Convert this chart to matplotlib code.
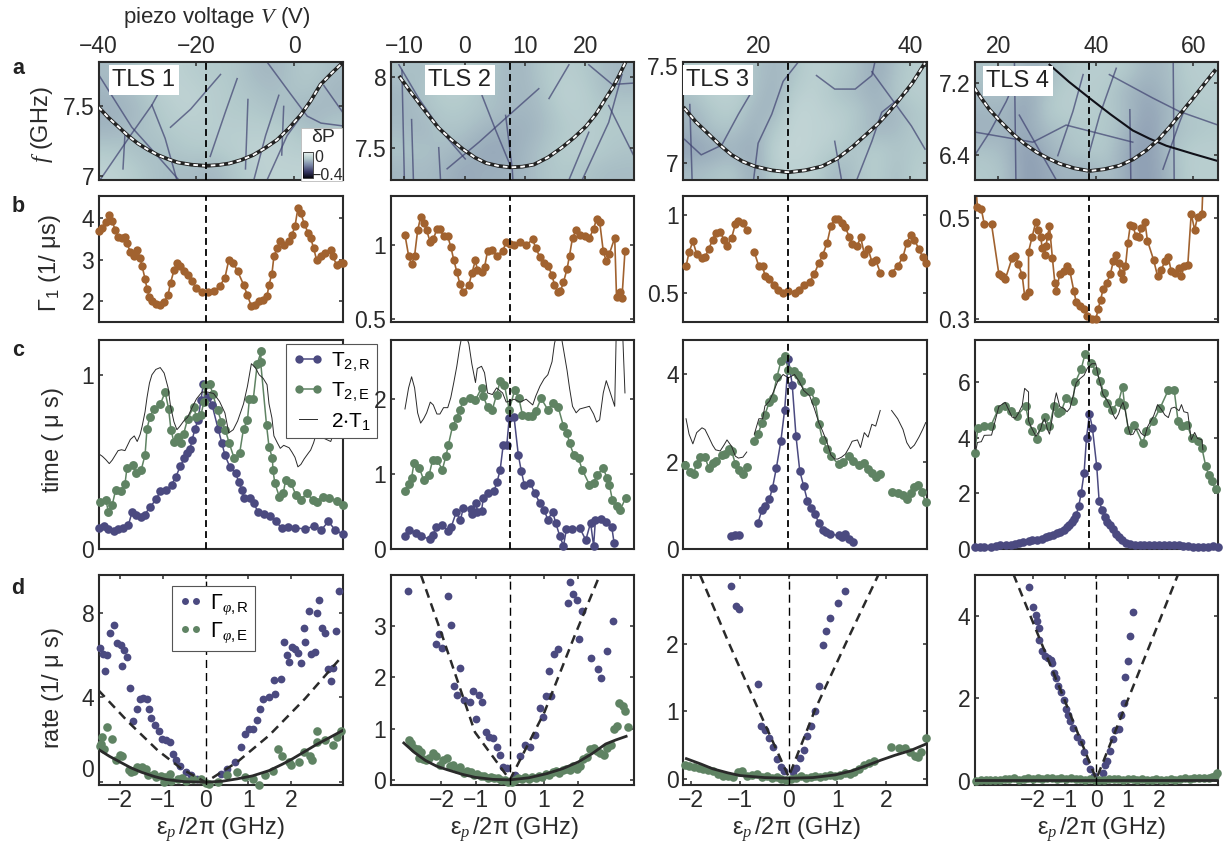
import numpy as np
import matplotlib
matplotlib.use('Agg')
import matplotlib.pyplot as plt
from matplotlib.colors import LinearSegmentedColormap, Normalize
from matplotlib.cm import ScalarMappable
from matplotlib.patches import Rectangle
from matplotlib.lines import Line2D

plt.rcParams['font.family'] = ['Liberation Sans Narrow', 'Liberation Sans', 'DejaVu Sans']
plt.rcParams['mathtext.fontset'] = 'custom'
plt.rcParams['mathtext.rm'] = 'Liberation Sans'
plt.rcParams['mathtext.it'] = 'Liberation Serif:italic'
plt.rcParams['mathtext.bf'] = 'Liberation Sans:bold'
plt.rcParams['mathtext.fallback'] = 'stix'

W, H = 1230, 846
nan = np.nan

# ---------- axis ranges ----------
V_LIMS = [(-40, 9.8), (-12.3, 28.1), (10.1, 42.2), (15.1, 65.1)]
V_TICKS = [[-40, -20, 0], [-10, 0, 10, 20], [20, 40], [20, 40, 60]]
V_SWEET = [-18.0, 7.5, 24.0, 38.7]
F_LIMS = [(6.97, 7.82), (7.27, 8.11), (6.91, 7.52), (6.12, 7.43)]
F_TICKS = [[7, 7.5], [7.5, 8], [7, 7.5], [6.4, 7.2]]
F_LABELS = [['7', '7.5'], ['7.5', '8'], ['7', '7.5'], ['6.4', '7.2']]
G_LIMS = [(1.5, 4.52), (0.48, 1.33), (0.313, 1.117), (0.295, 0.543)]
G_TICKS = [[2, 3, 4], [0.5, 1], [0.5, 1], [0.3, 0.5]]
G_LABELS = [['2', '3', '4'], ['0.5', '1'], ['0.5', '1'], ['0.3', '0.5']]
T_LIMS = [(0, 1.2), (0, 2.79), (0, 4.79), (0, 7.52)]
T_TICKS = [[0, 1], [0, 1, 2], [0, 2, 4], [0, 2, 4, 6]]
E_LIMS = [(-2.51, 3.21), (-3.49, 3.63), (-2.17, 2.83), (-3.85, 3.85)]
E_TICKS = [[-2, -1, 0, 1, 2], [-2, -1, 0, 1, 2], [-2, -1, 0, 1, 2], [-2, -1, 0, 1, 2]]
R_LIMS = [(-0.13, 9.78), (-0.1, 4.0), (-0.09, 3.02), (-0.1, 4.98)]
R_TICKS = [[0, 4, 8], [0, 1, 2, 3], [0, 1, 2], [0, 2, 4]]

# ---------- row a: background (dP, coarse readings) ----------
BG_1 = [[-.12, -.11, -.09, -.08, -.09, -.10, -.10, -.12, -.13, -.11, -.10, -.12],
        [-.13, -.12, -.10, -.08, -.08, -.09, -.10, -.11, -.12, -.11, -.11, -.13],
        [-.14, -.13, -.11, -.09, -.08, -.09, -.10, -.10, -.11, -.12, -.13, -.12],
        [-.13, -.12, -.11, -.10, -.09, -.09, -.09, -.09, -.09, -.10, -.12, -.10],
        [-.10, -.11, -.12, -.11, -.10, -.10, -.09, -.08, -.08, -.09, -.09, -.08],
        [-.08, -.09, -.11, -.12, -.12, -.13, -.11, -.09, -.08, -.08, -.08, -.08]]
BG_2 = [[-.11, -.12, -.10, -.09, -.10, -.12, -.13, -.10, -.09, -.10, -.12, -.13],
        [-.13, -.11, -.09, -.09, -.11, -.12, -.13, -.11, -.08, -.09, -.12, -.12],
        [-.13, -.12, -.10, -.10, -.11, -.12, -.13, -.12, -.09, -.09, -.10, -.10],
        [-.12, -.13, -.11, -.11, -.13, -.14, -.14, -.12, -.10, -.09, -.10, -.10],
        [-.11, -.11, -.12, -.13, -.15, -.15, -.13, -.11, -.09, -.09, -.10, -.11],
        [-.13, -.12, -.13, -.15, -.14, -.14, -.13, -.11, -.10, -.11, -.12, -.12]]
BG_3 = [[-.10, -.09, -.09, -.11, -.13, -.11, -.08, -.10, -.11, -.15, -.11, -.09],
        [-.11, -.08, -.08, -.11, -.14, -.09, -.08, -.11, -.12, -.14, -.10, -.09],
        [-.13, -.10, -.09, -.13, -.13, -.07, -.08, -.09, -.10, -.13, -.13, -.10],
        [-.14, -.11, -.11, -.14, -.10, -.07, -.08, -.08, -.11, -.13, -.12, -.10],
        [-.16, -.15, -.13, -.15, -.08, -.07, -.08, -.10, -.11, -.09, -.11, -.10],
        [-.12, -.11, -.10, -.15, -.09, -.08, -.09, -.13, -.11, -.09, -.12, -.09]]
BG_4 = [[-.11, -.10, -.13, -.13, -.10, -.09, -.09, -.10, -.13, -.12, -.09, -.09],
        [-.12, -.11, -.15, -.11, -.09, -.09, -.10, -.13, -.15, -.12, -.10, -.09],
        [-.13, -.13, -.16, -.10, -.09, -.09, -.10, -.12, -.16, -.13, -.10, -.10],
        [-.14, -.13, -.15, -.12, -.11, -.10, -.10, -.13, -.17, -.12, -.11, -.10],
        [-.11, -.12, -.17, -.14, -.11, -.10, -.10, -.15, -.17, -.12, -.09, -.09],
        [-.10, -.11, -.17, -.15, -.13, -.14, -.11, -.15, -.17, -.13, -.09, -.09]]

# ---------- row a: faint defect traces as (V, f) readings ----------
TRACES_1 = [[(-40, 7.73), (-33.2, 7.35), (-28, 7.145), (-23.6, 6.97)],
            [(-39.7, 6.97), (-33.5, 7.29), (-29.1, 7.51), (-27.7, 7.6)],
            [(-29.1, 7.51), (-26.4, 7.27), (-24, 6.97)],
            [(-5.6, 7.82), (-0.8, 7.59), (2.6, 7.43), (5.4, 7.38), (9.8, 7.36)],
            [(-17.2, 7.14), (-14.1, 7.46), (-11.7, 7.70)],
            [(-8.3, 6.97), (-5.9, 7.29), (-3.2, 7.58)],
            [(-25.3, 7.35), (-21.2, 7.48), (-15.1, 7.73)],
            [(-5.6, 6.97), (-1.5, 7.29), (2, 7.46)],
            [(6, 7.65), (9.8, 7.46)],
            [(-35, 7.05), (-34.6, 7.3)],
            [(-10, 7.05), (-9.5, 7.55)],
            [(-2.6, 7.15), (-2.2, 7.5)]]
TRACES_2 = [[(-10.9, 8.09), (-7.6, 7.85), (-3.7, 7.61), (0.1, 7.42)],
            [(6.8, 7.73), (7.9, 7.35), (8.0, 7.27)],
            [(2.9, 7.87), (5.1, 7.63), (7.6, 7.37)],
            [(-2.9, 7.35), (2.4, 7.54), (6.8, 7.71), (12.3, 7.92)],
            [(20.6, 8.09), (24.5, 7.95), (28.1, 7.96)],
            [(19.5, 7.27), (23.9, 7.68), (26.1, 8.02)],
            [(17.3, 7.27), (20.6, 7.61)],
            [(23.9, 7.80), (28.1, 7.44)],
            [(14, 7.85), (17.3, 8.09)],
            [(-10.4, 8.05), (-10.0, 7.27)],
            [(-8.8, 7.7), (-8.5, 7.27)],
            [(-4.3, 7.5), (-4.0, 7.27)]]
TRACES_3 = [[(25.3, 7.52), (23.3, 7.42), (21.8, 7.25), (20, 7.10), (19.4, 6.91)],
            [(27.7, 7.45), (30.1, 7.38), (32.8, 7.38), (35, 7.45), (35.4, 7.52)],
            [(35, 7.47), (37.6, 7.33), (40.2, 7.19), (42, 7.07)],
            [(10.3, 7.12), (12.5, 7.04), (15.2, 7.09), (17.4, 7.25), (18.9, 7.35)],
            [(39.8, 7.37), (36.3, 7.26), (35, 7.11), (33, 6.91)],
            [(30.1, 7.11), (31, 6.91)],
            [(11.0, 7.3), (11.3, 6.91)]]
TRACES_4 = [[(15.1, 6.39), (18.2, 6.65), (21.6, 6.99), (24, 7.29)],
            [(42.8, 7.29), (51.7, 7.03), (57.2, 6.88), (65.1, 6.73)],
            [(32.2, 6.39), (35.3, 6.88), (37.4, 7.29)],
            [(38.7, 6.43), (40.8, 6.84), (44.2, 7.36)],
            [(15.4, 6.65), (27.1, 6.54), (33.9, 6.73), (47.6, 6.54)],
            [(53.8, 6.24), (57.2, 6.76), (58.6, 6.95)],
            [(24.3, 6.84), (31.9, 6.12)],
            [(23.3, 7.43), (23.6, 6.12)],
            [(47, 6.9), (47.2, 6.12)],
            [(55.9, 7.43), (56.1, 6.12)]]
STRONG_4 = [(30.5, 7.40), (34.5, 7.21), (38.7, 7.03), (43, 6.85), (47.6, 6.67), (51, 6.58), (54.5, 6.50), (60, 6.41), (65.1, 6.33)]

# ---------- row a: TLS resonance curve readings ----------
CURVE_1 = [(-40, 7.495), (-38, 7.42), (-36, 7.355), (-34, 7.29), (-32, 7.234), (-30, 7.19), (-27.9, 7.15), (-25.8, 7.12), (-23.8, 7.096), (-21, 7.08), (-18.1, 7.072),
           (-15.5, 7.078), (-13.3, 7.089), (-10.8, 7.115), (-8.4, 7.15), (-6, 7.2), (-3.6, 7.258), (-1.2, 7.34), (1.3, 7.44), (3.3, 7.54), (5.3, 7.657), (7.6, 7.74), (9.8, 7.814)]
CURVE_2 = [(-10.7, 8.0), (-9.2, 7.91), (-7.6, 7.82), (-6, 7.73), (-4.3, 7.64), (-2.3, 7.56), (-0.3, 7.49), (1.7, 7.43), (3.6, 7.39), (5.6, 7.37), (7.6, 7.36), (9.6, 7.365),
           (11.5, 7.38), (13.8, 7.43), (16.1, 7.5), (18.1, 7.57), (20.1, 7.65), (21.8, 7.74), (23.4, 7.85), (24.6, 7.93), (25.7, 8.02), (26.7, 8.11)]
CURVE_3 = [(10.3, 7.28), (11.8, 7.21), (13.4, 7.15), (15, 7.09), (16.5, 7.04), (18, 7.005), (19.6, 6.98), (21.8, 6.96), (24, 6.95), (26.2, 6.96), (28.4, 6.98), (30.4, 7.02),
           (32.4, 7.08), (34.1, 7.14), (35.8, 7.2), (37.2, 7.26), (38.5, 7.32), (40.3, 7.41), (42, 7.515)]
CURVE_4 = [(15.1, 7.14), (16.6, 7.02), (18.2, 6.9), (20.6, 6.76), (23, 6.63), (25.4, 6.52), (27.8, 6.43), (30.2, 6.36), (32.6, 6.30), (35.6, 6.25), (38.7, 6.22), (41.8, 6.24),
           (44.9, 6.28), (47.7, 6.35), (50.4, 6.45), (52.9, 6.57), (55.2, 6.71), (57.6, 6.87), (60, 7.03), (62.2, 7.18), (64.4, 7.33)]

# ---------- row b: Gamma_1 (V, 1/us) ----------
GAMMA_1 = [(-39.8, 3.68), (-39.2, 3.76), (-38.5, 3.9), (-37.8, 4.08), (-37.2, 3.92), (-36.6, 3.72), (-36, 3.54), (-35.3, 3.51),
           (-34.6, 3.54), (-34.2, 3.4), (-33.5, 3.18), (-32.7, 3.08), (-32.1, 3.24), (-31.5, 3.04), (-31.1, 2.84), (-30.5, 2.54),
           (-30.1, 2.3), (-29.6, 2.1), (-29.1, 2.0), (-28.3, 1.94), (-27.4, 1.92), (-26.6, 1.98), (-25.8, 2.16), (-25.3, 2.44),
           (-24.6, 2.74), (-24, 2.92), (-23.4, 2.84), (-22.6, 2.72), (-21.8, 2.64), (-21, 2.48), (-20, 2.32), (-18.9, 2.22),
           (-17.7, 2.22), (-16.5, 2.24), (-15.3, 2.36), (-14.2, 2.56), (-13.4, 3.0), (-12.5, 2.92), (-11.6, 2.72), (-10.4, 2.4),
           (-9.6, 2.14), (-8.8, 1.88), (-8, 1.92), (-7.2, 2.0), (-6.4, 2.04), (-5.6, 2.12), (-5.2, 2.4), (-4.6, 2.66), (-4.2, 3.08),
           (-3.5, 3.28), (-2.9, 3.46), (-2.2, 3.36), (-1.1, 3.44), (-0.5, 3.6), (0.1, 3.8), (0.7, 4.24), (1.3, 4.12), (2, 3.86),
           (2.8, 3.64), (3.3, 3.52), (3.9, 3.28), (4.5, 3.0), (5.4, 3.08), (6.2, 3.16), (7.4, 3.24), (7.8, 3.08), (8.6, 2.88),
           (9.4, 2.92), (9.8, 2.92)]
GAMMA_2 = [(-9.9, 1.07), (-9.3, .93), (-8.8, .87), (-8.3, .93), (-7.8, 1.10), (-7.3, 1.19), (-6.8, 1.15), (-6.3, 1.10), (-5.7, 1.02),
           (-5.2, 1.04), (-4.6, 1.11), (-4.1, 1.11), (-3.5, 1.06), (-2.8, 1.06), (-2.3, .99), (-1.8, .90), (-1.3, .82), (-0.8, .74),
           (-0.2, .68), (0.7, .73), (1.2, .81), (1.8, .90), (2.1, .83), (2.8, .82), (3.3, .85), (3.8, .96), (4.6, .97), (5.3, .93),
           (6.3, .96), (6.9, 1.02), (7.6, 1.01), (8.2, 1.0), (9.2, 1.02), (10.2, 1.0), (11.3, 1.04), (11.8, .98), (12.5, .92),
           (13.2, .88), (13.8, .86), (14.5, .80), (14.9, .73), (15.5, .68), (15.9, .69), (16.4, .75), (17, .84), (17.4, .93),
           (17.9, 1.05), (18.5, 1.10), (19.1, 1.07), (19.9, 1.06), (20.7, 1.05), (21.4, 1.11), (21.9, 1.18), (22.4, 1.16), (23, .96),
           (23.5, .89), (24, .94), (24.9, 1.05), (25.2, .65), (25.7, .68), (26.1, .64), (26.6, .96)]
GAMMA_3 = [(10.5, .67), (10.9, .76), (11.4, .83), (11.9, .75), (12.6, .72), (13, .73), (13.5, .78), (14, .84), (14.4, .88), (15, .89),
           (15.5, .84), (15.9, .80), (16.5, .85), (17, .94), (17.4, .96), (18, .95), (18.5, .90), (19, nan), (19.5, .76), (20.1, .67),
           (20.6, .67), (20.9, .61), (21.5, .59), (22.1, .55), (22.6, .52), (23.3, .50), (24, .51), (24.8, .50), (25.4, .52), (26, .55),
           (26.8, .57), (27.4, .62), (28, .69), (28.5, .74), (29.1, .82), (29.6, .93), (30.1, .97), (30.5, .97), (31, .95), (31.5, .92),
           (32, .86), (32.4, .81), (33.1, .80), (33.5, .86), (34, .75), (34.5, .78), (35, .70), (35.5, .71), (36.1, .63), (37, nan),
           (37.6, .63), (38.4, .67), (39.1, .73), (39.6, .82), (40.1, .87), (40.6, .84), (41.2, .78), (41.7, .73), (42.1, .69)]
GAMMA_4 = [(15.4, .56), (15.7, .522), (16.5, .518), (17.1, .489), (18.6, .488), (20.1, .39), (20.7, .385), (21.4, .379), (22.8, .421),
           (23.5, .425), (24.1, .41), (24.9, .387), (25.4, .346), (26.2, .354), (26.2, .434), (26.9, .462), (27.7, .493), (28.2, .477),
           (28.7, .463), (29, .441), (29.5, .427), (29.8, .446), (30.1, .465), (30.5, .484), (31.1, .421), (31.6, .372), (31.9, .356),
           (32.6, .39), (33.4, .395), (34.1, .405), (34.7, .395), (35.5, .356), (36, .334), (36.8, .326), (37.6, .32), (38.3, .307),
           (39.2, .30), (40, .30), (40.5, .321), (41, .339), (41.5, .36), (42.3, .373), (43, .39), (43.6, .415), (44.1, .428), (44.7, .411),
           (45.1, .392), (45.6, .379), (46.1, .405), (46.6, .452), (47.1, .487), (47.7, .484), (48.2, .465), (48.8, .463), (49.3, .48),
           (50.1, .493), (50.6, .456), (51.9, .417), (52.7, .385), (53.4, .397), (54.2, .415), (54.9, .423), (55.5, .395), (56.2, .392),
           (57.1, .402), (57.6, .385), (58.1, .405), (58.9, .408), (59.6, .509), (60.3, .477), (60.9, .503), (61.8, .509), (62, .56)]

# ---------- row c: T2 (V, us) ----------
T2R_1 = [(-39.8, .12), (-38.8, .13), (-38, .116), (-36.8, .105), (-36, .116), (-35, .12), (-33.9, .139), (-33.1, .215), (-32.3, .196),
         (-31.3, .181), (-30.6, .196), (-29.4, .244), (-28.2, .286), (-27.4, .333), (-26.2, .339), (-25.1, .368), (-24.2, .415), (-23.3, .476),
         (-22.5, .52), (-21.9, .549), (-21.3, .577), (-20.9, .625), (-20.3, .691), (-19.7, .739), (-19.1, .853), (-18.6, .949), (-17.6, .872),
         (-16.8, .825), (-15.6, .691), (-14.8, .606), (-14.2, .539), (-13.2, .472), (-12, .434), (-11.4, .387), (-10.7, .339), (-10.3, .291),
         (-9.1, .291), (-8.3, .263), (-7.5, .215), (-6.3, .202), (-5, .187), (-3.8, .158), (-2.6, .12), (-1.4, .126), (0.2, .12), (2.2, .116),
         (3.9, .13), (5.5, .11), (6.9, .158), (8.3, .11), (9.8, .086)]
T2E_1 = [(-39.6, .272), (-38.5, .282), (-38, .215), (-37.2, .253), (-36.5, .339), (-35.5, .333), (-34.6, .373), (-34.2, .463), (-32.9, .482),
         (-32.3, .434), (-31.3, .453), (-30.5, .539), (-30.1, .691), (-29.5, .758), (-28.7, .806), (-27.4, .83), (-26.4, .901), (-25.7, .806),
         (-25.2, .682), (-24.6, .615), (-23.8, .644), (-23.2, .606), (-22.6, .663), (-21.8, .749), (-20.6, .815), (-20, .758), (-19.1, .768),
         (-18.5, .844), (-18.3, .939), (-17.3, .949), (-16.7, .891), (-15.7, .796), (-14.9, .73), (-14.1, .682), (-13.3, .606), (-12.3, .52),
         (-11.2, .549), (-10.4, .691), (-9.6, .739), (-9.2, .863), (-8.4, .863), (-7.6, 1.063), (-6.8, 1.135), (-6.9, 1.072), (-5.7, .71),
         (-5.2, .587), (-4.5, .52), (-4.4, .453), (-4, .377), (-3.1, .301), (-2.3, .32), (-1.8, .396), (-0.7, .377), (0.3, .31), (1.3, .282),
         (2.5, .32), (3.7, .282), (4.5, .272), (5.8, .301), (7.1, .291), (8.6, .278), (9.8, .253)]
T2R_2 = [(-9.9, .17), (-9.3, .26), (-8, .21), (-7.2, .17), (-5.7, .13), (-5.2, .19), (-4.7, .30), (-3.7, .32), (-2.8, .24), (-2.2, .30),
         (-1.4, .49), (-0.7, .39), (-0.2, .55), (1, .54), (1.2, .47), (1.9, .62), (2.1, .50), (2.8, .51), (3.1, .68), (3.9, .75), (4.9, .78),
         (5.4, .90), (5.9, 1.06), (6.4, 1.39), (7, 1.39), (7.4, 1.75), (8.2, 1.76), (8.9, 1.26), (9.4, 1.04), (9.9, .86), (10.9, .88), (11.6, .75),
         (12.5, .61), (13.2, .52), (13.8, .39), (14.6, .50), (15.1, .35), (15.8, .17), (16.4, .04), (16.9, .27), (17.8, .27), (19.1, .28),
         (20.1, .12), (20.9, .35), (21.4, .04), (21.7, .39), (22.6, .40), (23.4, .36), (24.4, .30), (24.8, .08)]
T2E_2 = [(-9.9, .77), (-9.3, .87), (-8.8, .95), (-8.4, 1.15), (-7.5, 1.08), (-6.8, .92), (-5.9, .99), (-5.3, 1.19), (-4.6, 1.19), (-3.7, 1.06),
         (-3.1, 1.24), (-2.7, 1.39), (-2, 1.64), (-1.3, 1.75), (-0.8, 1.86), (-0.2, 1.98), (0.9, 2.01), (1.8, 1.99), (2.8, 2.15), (3.1, 2.04),
         (3.8, 1.89), (4.6, 1.86), (5.3, 2.06), (5.9, 2.24), (6.6, 2.19), (7.4, 1.86), (8.3, 2.12), (9, 2.01), (9.6, 1.79), (10.5, 1.78), (11.2, 1.78),
         (11.8, 1.84), (12.7, 2.01), (13.8, 1.86), (14.7, 1.95), (15.5, 1.9), (16.4, 1.64), (17, 1.55), (17.4, 1.41), (18.1, 1.26), (18.9, 1.21),
         (19.5, 1.06), (20.7, .86), (21.4, .88), (22, .99), (23, 1.08), (23.6, .95), (24, .86), (24.5, .66), (25.3, .57), (25.8, .52), (26.7, .68)]
T2R_3 = [(16.4, .29), (17, .33), (17.5, .33), (18.5, nan), (20, .6), (20.5, .9), (20.9, .99), (21.5, 1.15), (21.9, 1.4), (22.4, 1.85), (23, 2.47),
         (23.5, 3.19), (24, 4.35), (24.5, 3.76), (25, 2.58), (25.5, 1.78), (26, 1.45), (26.5, 1.11), (27, .95), (27.5, .8), (28, .6), (28.5, .44),
         (29, .38), (29.5, .34), (30.6, .31), (31.1, .27), (31.5, .35), (32, .23), (32.5, .15)]
T2E_3 = [(10.4, 1.92), (11, 1.76), (11.5, 1.73), (11.9, 1.95), (12.4, 2.11), (13, 2.11), (13.5, 1.85), (14, 1.97), (14.5, 2.01), (15.2, 2.16),
         (15.6, 2.18), (16.1, 2.29), (16.5, 2.25), (17, 1.95), (17.5, 1.82), (18, 1.73), (18.5, 1.88), (19, nan), (19.5, 2.47), (20, 2.64), (20.5, 2.89),
         (20.9, 3.08), (21.5, 3.38), (21.9, 3.46), (22.5, 3.95), (23, 4.3), (23.5, 4.43), (24, 4.11), (24.7, 4.07), (25.2, 3.99), (25.6, 3.84),
         (26.1, 3.6), (26.9, 3.63), (27.5, 3.4), (28, 2.87), (28.5, 2.5), (29.1, 2.29), (29.6, 2.12), (30.6, 1.95), (31.2, 1.99), (32, 2.14), (32.5, 2.01),
         (33.3, 1.93), (34, 1.97), (34.5, 1.83), (35, 1.74), (35.6, 1.65), (36.1, 1.72), (37, nan), (37.6, 1.3), (38.4, 1.28), (39.1, 1.23), (39.6, 1.15),
         (40.1, 1.28), (40.6, 1.41), (41.1, 1.46), (41.6, 1.3), (42.1, 1.07)]
T2R_4 = [(15.2, .06), (16.2, .06), (17, .06), (18.5, .08), (19.5, .09), (20.3, .13), (21.5, .13), (22.5, .15), (23.5, .17), (24.3, .23), (25, .25),
         (26.2, .3), (27, .33), (28, .34), (29, .37), (29.8, .42), (30.5, .45), (31.3, .5), (32, .57), (32.7, .62), (33.4, .7), (34, .78), (34.6, .86),
         (35.2, .97), (35.6, 1.08), (36, 1.24), (36.5, 1.55), (37, 2), (37.6, 2.74), (38.1, 4), (38.7, 4.86), (39.3, 4.37), (40.2, 2.97), (40.7, 1.71),
         (41.3, 1.41), (41.8, 1.15), (42.4, .98), (43, .85), (43.6, .72), (44.2, .55), (44.8, .42), (45.4, .32), (46.2, .22), (47, .17), (48, .15), (49, .14),
         (50, .15), (51, .16), (52, .16), (53, .15), (54, .14), (55, .13), (56, .14), (57, .15), (58, .11), (59, .09), (60, .08), (61, .08), (62, .07),
         (63, .08), (64, .09), (65, .08)]
T2E_4 = [(15.1, 3.47), (15.8, 4.35), (17.1, 4.44), (18.4, 4.41), (20, 5.04), (21.4, 5.15), (22.5, 4.95), (23.8, 4.79), (25.6, 5.15), (26.2, 4.62),
         (26.9, 4.23), (27.9, 3.95), (28.7, 4.38), (29.5, 4.74), (30.5, 4.41), (31.4, 5.13), (32.3, 4.89), (32.9, 4.95), (33.9, 5.43), (35.3, 5.34),
         (35.8, 6), (37, 6.47), (37.8, 7.02), (39, 6.68), (40, 6.42), (40.9, 6.06), (41.6, 5.63), (42.3, 5.27), (43.3, 5), (44.7, 5.3), (45.5, 5.84),
         (45.9, 5.19), (46.7, 4.29), (47.9, 4.47), (49.6, 3.81), (50.4, 4.23), (51.8, 4.59), (53.2, 5.07), (54.9, 5.72), (56.1, 5.72), (56.9, 4.6),
         (57.7, 4.41), (58.8, 4.47), (59.7, 4), (61, 3.87), (61.8, 3.63), (62.6, 2.97), (63.2, 2.65), (63.8, 2.43), (64.6, 2.16)]

# ---------- row d: dephasing rates (eps, 1/us) ----------
RATE_R_1 = [(-2.48, 6.34), (-2.4, 6.07), (-2.3, 5.99), (-2.35, 5.27), (-2.23, 7.02), (-2.14, 7.41), (-2.07, 6.59), (-1.99, 6.47), (-1.91, 6.23), (-1.84, 5.91),
            (-1.96, 5.49), (-1.78, 4.46), (-1.69, 2.87), (-1.61, 3.47), (-1.53, 3.94), (-1.46, 3.99), (-1.38, 3.94), (-1.32, 3.47), (-1.27, 3.03), (-1.19, 2.68),
            (-1.09, 2.44), (-1.02, 2.05), (-.93, 1.97), (-.84, 1.89), (-.77, 1.34), (-.7, 1.03), (-.6, .79), (-.47, .47), (-.33, .35), (-.19, .16), (.37, .39),
            (.51, .63), (.7, .95), (.84, 1.66), (1.02, 2.52), (1.12, 2.52), (.93, 2.29), (1.21, 2.92), (1.27, 3.47), (1.35, 3.94), (1.49, 4.02), (1.63, 4.18),
            (1.6, 4.81), (1.77, 4.89), (1.84, 6.62), (1.91, 5.99), (1.95, 5.68), (2.03, 6.39), (2.09, 6.31), (2.16, 6.12), (2.23, 5.63), (2.34, 6.62), (2.31, 7.29),
            (2.42, 8.08), (2.47, 6.03), (2.56, 6.15), (2.62, 7.97), (2.65, 8.6), (2.74, 7.29), (2.81, 7.02), (2.87, 5.36), (2.93, 4.76), (2.98, 5.39), (3.05, 7.13), (3.12, 9.02)]
RATE_E_1 = [(-2.47, 1.7), (-2.42, 2.13), (-2.3, 2.6), (-2.2, 2.02), (-2.46, 1.81), (-2.37, 1.58), (-2.1, 1.03), (-1.95, 1.26), (-2, 1.3), (-1.8, .6), (-1.75, .47),
            (-1.68, .52), (-1.6, .71), (-1.5, .71), (-1.4, .62), (-1.35, .32), (-1.2, .38), (-1.17, .24), (-1.05, .3), (-.95, .25), (-.84, .39), (-.98, 0), (-.8, .05),
            (-.65, .16), (-.55, .2), (-.47, .08), (-.3, .16), (-.1, .16), (0, -.02), (.09, -.08), (.28, 0), (.51, .32), (.74, .47), (.93, .24), (1.12, .16), (1.26, -.13),
            (1.4, .32), (1.58, .55), (1.7, 1.58), (1.8, 1.26), (1.95, .95), (2.0, .8), (2.2, .95), (2.3, 1.42), (2.45, 1.26), (2.5, 1.05), (2.62, 2.44), (2.62, 1.89),
            (2.8, 1.97), (2.98, 1.74), (3.07, 2.13), (3.18, 2.44)]
RATE_R_2 = [(-2.97, 3.68), (-1.81, 3.59), (-1.72, 3.03), (-2.07, 2.84), (-2.16, 2.66), (-1.98, 2.57), (-1.47, 2.19), (-1.63, 1.84), (-1.55, 1.66), (-1.35, 1.55), (-1.17, 1.52),
            (-1.08, 1.73), (-.91, 1.65), (-.81, 1.53), (-.99, 1.18), (-.7, .93), (-.62, .84), (-.48, .82), (-.37, .65), (-.3, .48), (-.19, .26), (-.07, .23), (.14, .09), (.31, .46),
            (.43, .69), (.6, .64), (.74, .87), (.98, 1.23), (.87, 1.41), (1.05, 1.64), (1.21, 1.64), (1.13, 2.13), (1.3, 2.46), (1.42, 2.56), (1.69, 3.45), (1.77, 3.87), (1.86, 3.63),
            (1.95, 3.51), (2.12, 3.3), (2.02, 2.76), (2.38, 2.37), (2.58, 2.16), (2.67, 1.99), (2.84, 2.51), (3.01, 3.1)]
RATE_E_2 = [(-2.95, .78), (-2.9, .72), (-2.8, .63), (-2.7, .6), (-2.6, .55), (-2.65, .42), (-2.55, .4), (-2.45, .38), (-2.35, .43), (-2.25, .52), (-2.15, .47), (-2.05, .3), (-1.95, .38),
            (-1.85, .42), (-1.75, .28), (-1.65, .3), (-1.55, .22), (-1.45, .26), (-1.35, .14), (-1.25, .18), (-1.15, .15), (-1.05, .09), (-.95, .12), (-.85, .08), (-.75, .07), (-.65, .04),
            (-.55, .06), (-.45, .04), (-.35, .03), (-.25, 0), (-.15, -.01), (-.05, -.04), (.05, -.05), (.15, 0), (.25, .03), (.35, .01), (.45, .05), (.55, .02), (.65, .06), (.75, .03),
            (.85, .07), (.95, .05), (1.05, .12), (1.15, .09), (1.25, .15), (1.35, .18), (1.45, .14), (1.55, .2), (1.65, .22), (1.75, .19), (1.85, .27), (1.95, .22), (2.05, .28), (2.15, .4),
            (2.25, .44), (2.35, .6), (2.45, .62), (2.55, .56), (2.65, .52), (2.75, .48), (2.85, .62), (2.95, .68), (3.05, 1.0), (3.12, 1.06), (3.2, 1.5), (3.3, 1.45), (3.36, 1.34), (3.45, 1.03)]
RATE_R_3 = [(-1.18, 2.86), (-1.09, 2.56), (-1.03, 2.51), (-.63, 1.4), (-.56, .79), (-.49, .73), (-.41, .6), (-.33, .47), (-.24, .3), (-.16, .17), (-.1, .11), (.08, .1), (.16, .16), (.24, .31),
            (.31, .43), (.37, .64), (.46, .79), (.54, 1.01), (.62, 1.37), (.7, 1.98), (.77, 2.19), (.85, 2.38), (1.01, 2.6), (1.15, 2.79)]
RATE_E_3 = [(-2.13, .21), (-2.05, .19), (-1.95, .17), (-1.85, .16), (-1.75, .14), (-1.65, .13), (-1.55, .12), (-1.45, .08), (-1.35, .04), (-1.25, .05), (-1.15, .03), (-1.05, .1), (-.95, .11), (-.85, .05),
            (-.75, .06), (-.65, .07), (-.55, .03), (-.45, .05), (-.35, .02), (-.25, .03), (-.15, 0), (-.05, -.01), (.05, 0), (.15, .02), (.25, .04), (.35, .01), (.45, .03), (.55, .05), (.65, .03), (.75, .05),
            (.85, .06), (.95, .04), (1.05, .06), (1.15, .09), (1.25, .07), (1.35, .1), (1.45, .14), (1.55, .2), (1.65, .24), (1.75, .26), (2.1, .47), (2.26, .46), (2.38, .46), (2.5, .4), (2.59, .34), (2.65, .33),
            (2.71, .4), (2.81, .61)]
RATE_R_4 = [(-2.12, 4.7), (-2, 4.2), (-1.91, 4.02), (-1.88, 3.86), (-1.81, 3.7), (-1.81, 3.41), (-1.72, 3.15), (-1.61, 3.01), (-1.53, 2.97), (-1.43, 2.93), (-1.41, 2.85), (-1.34, 2.6), (-1.27, 2.48),
            (-1.2, 2.3), (-1.1, 2.14), (-1.02, 1.95), (-.96, 1.75), (-.9, 1.59), (-.82, 1.46), (-.72, 1.28), (-.6, 1.06), (-.49, .93), (-.39, .71), (-.31, .49), (-.19, .28), (-.07, .12), (.2, .18), (.28, .39),
            (.34, .49), (.43, .72), (.52, 1.02), (.6, 1.22), (.72, 1.26), (.78, 1.59), (.88, 1.89), (.92, 2.52), (1.01, 2.89), (1.08, 3.5), (1.16, 4.09)]
RATE_E_4_EPS = [-3.8, -3.65, -3.5, -3.35, -3.2, -3.05, -2.9, -2.75, -2.6, -2.45, -2.3, -2.15, -2, -1.85, -1.7, -1.55, -1.4, -1.25, -1.1, -.95, -.8, -.65, -.5, -.35, -.2, -.05,
                .1, .25, .4, .55, .7, .85, 1, 1.15, 1.3, 1.45, 1.6, 1.75, 1.9, 2.05, 2.2, 2.35, 2.5, 2.65, 2.8, 2.95, 3.1, 3.25, 3.4, 3.55, 3.65, 3.75, 3.82]
RATE_E_4_VAL = [.0, .02, .03, .01, .03, .02, .05, .04, .06, .03, .05, .06, .05, .07, .04, .06, .07, .04, .06, .05, .06, .04, .05, .03, .04, .02,
                .02, .03, .05, .04, .05, .03, .04, .05, .03, .04, .02, .03, .04, .02, .03, .05, .03, .04, .06, .05, .07, .06, .07, .08, .1, .12, .2]

# fitted rate curves as (eps, rate) knots
SOLID_1 = [(-2.51, 1.55), (-2.25, 1.22), (-2, .95), (-1.75, .68), (-1.5, .47), (-1.2, .27), (-.93, .13), (-.5, .03), (0, 0), (.4, .05), (.74, .16), (1.1, .3), (1.49, .55),
           (1.8, .85), (2.05, 1.12), (2.35, 1.48), (2.6, 1.78), (2.9, 2.1), (3.21, 2.44)]
DASH_1 = [(-2.51, 4.34), (-1.81, 2.84), (-1.12, 1.5), (-.56, .63), (0, 0), (.74, .95), (1.49, 2.21), (2.33, 3.94), (3.12, 5.76)]
SOLID_2 = [(-3.1, .72), (-2.8, .54), (-2.47, .38), (-2.15, .27), (-1.84, .2), (-1.4, .11), (-1.02, .05), (-.5, .01), (0, 0), (.55, .04), (1.07, .12), (1.55, .22), (2, .35),
           (2.4, .51), (2.8, .7), (3.1, .78), (3.4, .85)]
DASH_2 = [(-2.6, 4.0), (-1.98, 2.82), (-1.02, .93), (0, 0), (1.01, 1.32), (1.88, 2.79), (2.63, 4.0)]
SOLID_3 = [(-2.1, .3), (-1.8, .22), (-1.56, .15), (-1.25, .09), (-1, .05), (-.5, .02), (0, .01), (.5, .02), (.96, .06), (1.3, .12), (1.61, .2), (1.9, .28), (2.18, .35), (2.5, .42), (2.83, .52)]
DASH_3 = [(-1.82, 3.02), (-1.24, 2.03), (-.63, 1.04), (0, .03), (.55, 1.04), (1.2, 2.05), (1.84, 3.02)]
SOLID_4 = [(-3.85, .02), (3.85, .02)]
DASH_4 = [(-2.62, 5), (-1.02, 1.99), (0, .04), (.93, 1.83), (2.59, 5)]

TLS_NAMES = ['TLS 1', 'TLS 2', 'TLS 3', 'TLS 4']

# ---------- styles and layout (pixels) ----------
BROWN, PURPLE, GREEN, INK = '#a1622f', '#4b4a80', '#5f8363', '#2a2a2a'
COL_X = [(98.5, 342.5), (390.5, 634), (683, 926.5), (974.5, 1218)]
ROW_Y = [(62, 180), (196.5, 322), (340, 549), (575, 785)]
TICK_PX = 3.2
FS = 16.5

cmap = LinearSegmentedColormap.from_list('dp', [(0, '#07070f'), (.25, '#3a3a66'), (.5, '#7a86a6'), (.75, '#b3cacc'), (1, '#eaf2f0')])
norm = Normalize(-.4, 0)

fig = plt.figure(figsize=(W / 100, H / 100), dpi=100)


def make_ax(c, r):
    x0, x1 = COL_X[c]
    y0, y1 = ROW_Y[r]
    ax = fig.add_axes([x0 / W, 1 - y1 / H, (x1 - x0) / W, (y1 - y0) / H])
    for s in ax.spines.values():
        s.set_linewidth(1.5)
        s.set_color(INK)
    ax.tick_params(axis='both', which='both', direction='in', length=TICK_PX, width=1.1, color=INK,
                   labelsize=FS, labelcolor=INK, pad=3)
    return ax


def col(points, i):
    return np.array(points, dtype=float)[:, i]


BGS = [BG_1, BG_2, BG_3, BG_4]
TRACES = [TRACES_1, TRACES_2, TRACES_3, TRACES_4]
CURVES = [CURVE_1, CURVE_2, CURVE_3, CURVE_4]
GAMMAS = [GAMMA_1, GAMMA_2, GAMMA_3, GAMMA_4]
T2RS = [T2R_1, T2R_2, T2R_3, T2R_4]
T2ES = [T2E_1, T2E_2, T2E_3, T2E_4]
RATE_RS = [RATE_R_1, RATE_R_2, RATE_R_3, RATE_R_4]
RATE_ES = [RATE_E_1, RATE_E_2, RATE_E_3, list(zip(RATE_E_4_EPS, RATE_E_4_VAL))]
SOLIDS = [SOLID_1, SOLID_2, SOLID_3, SOLID_4]
DASHES = [DASH_1, DASH_2, DASH_3, DASH_4]

VLINE_DASH = (3.8, 2.3)

for c in range(4):
    # row a
    ax = make_ax(c, 0)
    ax.imshow(BGS[c], cmap=cmap, norm=norm, aspect='auto', interpolation='bicubic',
              extent=[*V_LIMS[c], *F_LIMS[c]], zorder=0)
    for tr in TRACES[c]:
        ax.plot(col(tr, 0), col(tr, 1), color='#3f4170', lw=1.1, alpha=.7, zorder=1)
    if c == 3:
        ax.plot(col(STRONG_4, 0), col(STRONG_4, 1), color='#101018', lw=1.5, zorder=2)
    ax.plot(col(CURVES[c], 0), col(CURVES[c], 1), color='#222222', lw=2.7, zorder=3)
    ax.plot(col(CURVES[c], 0), col(CURVES[c], 1), color='white', lw=1.4, dashes=(2.4, 2.1), zorder=4)
    ax.axvline(V_SWEET[c], color='black', lw=1.3, dashes=VLINE_DASH, zorder=5)
    ax.set_xlim(V_LIMS[c])
    ax.set_ylim(F_LIMS[c])
    ax.set_xticks(V_TICKS[c])
    ax.set_yticks(F_TICKS[c], F_LABELS[c])
    ax.tick_params(axis='x', top=True, bottom=True, labeltop=True, labelbottom=False)
    ax.tick_params(axis='y', left=True, right=True)

    # row b
    ax = make_ax(c, 1)
    v, g = col(GAMMAS[c], 0), col(GAMMAS[c], 1)
    ax.plot(v, g, '-', color=BROWN, lw=1.2)
    keep = ~(g > G_LIMS[c][1])
    ax.plot(v[keep], g[keep], 'o', color=BROWN, ms=6, mew=0, clip_on=False, zorder=3)
    ax.axvline(V_SWEET[c], color='black', lw=1.3, dashes=VLINE_DASH, zorder=5)
    ax.set_xlim(V_LIMS[c])
    ax.set_ylim(G_LIMS[c])
    ax.set_xticks([])
    ax.set_yticks(G_TICKS[c], G_LABELS[c])
    ax.tick_params(axis='y', left=True, right=True)

    # row c
    ax = make_ax(c, 2)
    ax.plot(v, 2 / g, '-', color=INK, lw=.7, zorder=4)
    vr, tr = col(T2RS[c], 0), col(T2RS[c], 1)
    ve, te = col(T2ES[c], 0), col(T2ES[c], 1)
    ax.plot(vr, tr, '-', color=PURPLE, lw=1.1, zorder=2)
    ax.plot(vr, tr, 'o', color=PURPLE, ms=6.2, mew=0, clip_on=False, zorder=3)
    ax.plot(ve, te, '-', color=GREEN, lw=1.1, zorder=2)
    ax.plot(ve, te, 'o', color=GREEN, ms=6.4, mew=0, clip_on=False, zorder=3)
    ax.axvline(V_SWEET[c], color='black', lw=1.3, dashes=VLINE_DASH, zorder=5)
    ax.set_xlim(V_LIMS[c])
    ax.set_ylim(T_LIMS[c])
    ax.set_xticks([])
    ax.set_yticks(T_TICKS[c])
    ax.tick_params(axis='y', left=True, right=True)
    if c == 0:
        handles = [Line2D([], [], color=PURPLE, lw=1.1, marker='o', ms=6, mew=0),
                   Line2D([], [], color=GREEN, lw=1.1, marker='o', ms=6, mew=0),
                   Line2D([], [], color=INK, lw=.7)]
        leg = ax.legend(handles, [r'T$_{\mathrm{2,R}}$', r'T$_{\mathrm{2,E}}$', r'2$\cdot$T$_{\mathrm{1}}$'],
                        numpoints=2, loc='upper left', bbox_to_anchor=((286 - 98.5) / 244, (549 - 344) / 209),
                        borderaxespad=0, borderpad=.3, labelspacing=.35, handlelength=1.5, handletextpad=.35,
                        fontsize=15, fancybox=False, framealpha=1, edgecolor='#555555')
        leg.get_frame().set_linewidth(.8)
        leg.set_zorder(10)

    # row d
    ax = make_ax(c, 3)
    er, rr = col(RATE_RS[c], 0), col(RATE_RS[c], 1)
    ee, re = col(RATE_ES[c], 0), col(RATE_ES[c], 1)
    ax.plot(er, rr, 'o', color=PURPLE, ms=5.6, mew=0, clip_on=False, zorder=3)
    ax.plot(ee, re, 'o', color=GREEN, ms=6.2, mew=0, clip_on=False, zorder=3)
    ax.plot(col(SOLIDS[c], 0), col(SOLIDS[c], 1), color=INK, lw=2.0, zorder=4)
    ax.plot(col(DASHES[c], 0), col(DASHES[c], 1), color=INK, lw=1.8, dashes=(3.6, 2.4), zorder=4)
    ax.axvline(0, color='black', lw=1.0, dashes=(5.8, 3.6), zorder=5)
    ax.set_xlim(E_LIMS[c])
    ax.set_ylim(R_LIMS[c])
    ax.set_xticks(E_TICKS[c])
    ax.set_yticks(R_TICKS[c])
    ax.tick_params(axis='x', top=True, bottom=True)
    ax.tick_params(axis='y', left=True, right=True)
    if c == 0:
        for lab in ax.get_yticklabels()[:1]:
            lab.set_verticalalignment('bottom')
        handles = [Line2D([], [], ls='none', color=PURPLE, marker='o', ms=5, mew=0),
                   Line2D([], [], ls='none', color=GREEN, marker='o', ms=5, mew=0)]
        leg = ax.legend(handles, [r'$\mathrm{\Gamma}_{\varphi,\mathrm{R}}$', r'$\mathrm{\Gamma}_{\varphi,\mathrm{E}}$'],
                        numpoints=2, loc='upper left', bbox_to_anchor=((172 - 98.5) / 244, (785 - 586) / 210),
                        borderaxespad=0, borderpad=.3, labelspacing=.15, handlelength=1.1, handletextpad=.35,
                        fontsize=15.5, fancybox=False, framealpha=1, edgecolor='#555555')
        leg.get_frame().set_linewidth(.8)
        leg.set_zorder(10)

# TLS name boxes
for name, (px, py) in zip(TLS_NAMES, [(144, 80), (460, 80), (718, 80), (1018, 81)]):
    fig.text(px / W, 1 - py / H, name, ha='center', va='center', fontsize=17, color='#222222', zorder=20,
             bbox=dict(facecolor='white', edgecolor='none', pad=2.5))

# dP scale inset
fig.add_artist(Rectangle((301 / W, 1 - 181 / H), 41 / W, 53 / H, transform=fig.transFigure,
                         facecolor='white', edgecolor='#bbbbbb', lw=.6, zorder=15))
cax = fig.add_axes([303 / W, 1 - 178 / H, 10 / W, 26 / H], zorder=16)
cb = fig.colorbar(ScalarMappable(norm=norm, cmap=cmap), cax=cax)
cb.set_ticks([])
cb.outline.set_linewidth(.5)
for txt, px, py, fs in [('δP', 323, 137, 14), ('0', 319, 157, 11.5), ('−0.4', 327, 175, 11.5)]:
    fig.text(px / W, 1 - py / H, txt, ha='center', va='center', fontsize=fs, color=INK, zorder=20)

# panel letters
for letter, py in zip('abcd', [69, 207, 350, 589]):
    fig.text(18 / W, 1 - py / H, letter, ha='center', va='center', fontsize=15.5, fontweight='bold',
             family=['Liberation Sans'], color='#222222')

# labels
LABEL_FS = 17
fig.text(217 / W, 1 - 18 / H, r'piezo voltage $\mathit{V}$ (V)', ha='center', va='center', fontsize=16, color=INK)
fig.text(42 / W, 1 - 125 / H, r'$\mathit{f}$ (GHz)', ha='center', va='center', rotation=90, fontsize=LABEL_FS, color=INK)
fig.text(50 / W, 1 - 263 / H, r'$\mathrm{\Gamma}_1$ (1/ $\mathrm{\mu}$s)', ha='center', va='center', rotation=90, fontsize=LABEL_FS, color=INK)
fig.text(53 / W, 1 - 440 / H, r'time ( $\mathrm{\mu}$ s)', ha='center', va='center', rotation=90, fontsize=LABEL_FS, color=INK)
fig.text(53 / W, 1 - 688 / H, r'rate (1/ $\mathrm{\mu}$ s)', ha='center', va='center', rotation=90, fontsize=LABEL_FS, color=INK)
for px in [220, 514, 796.5, 1101]:
    fig.text(px / W, 1 - 830 / H, r'$\mathrm{\varepsilon}_{p}\,/2\mathrm{\pi}$ (GHz)', ha='center', va='center', fontsize=LABEL_FS, color=INK)

fig.savefig('out.png', dpi=100)
